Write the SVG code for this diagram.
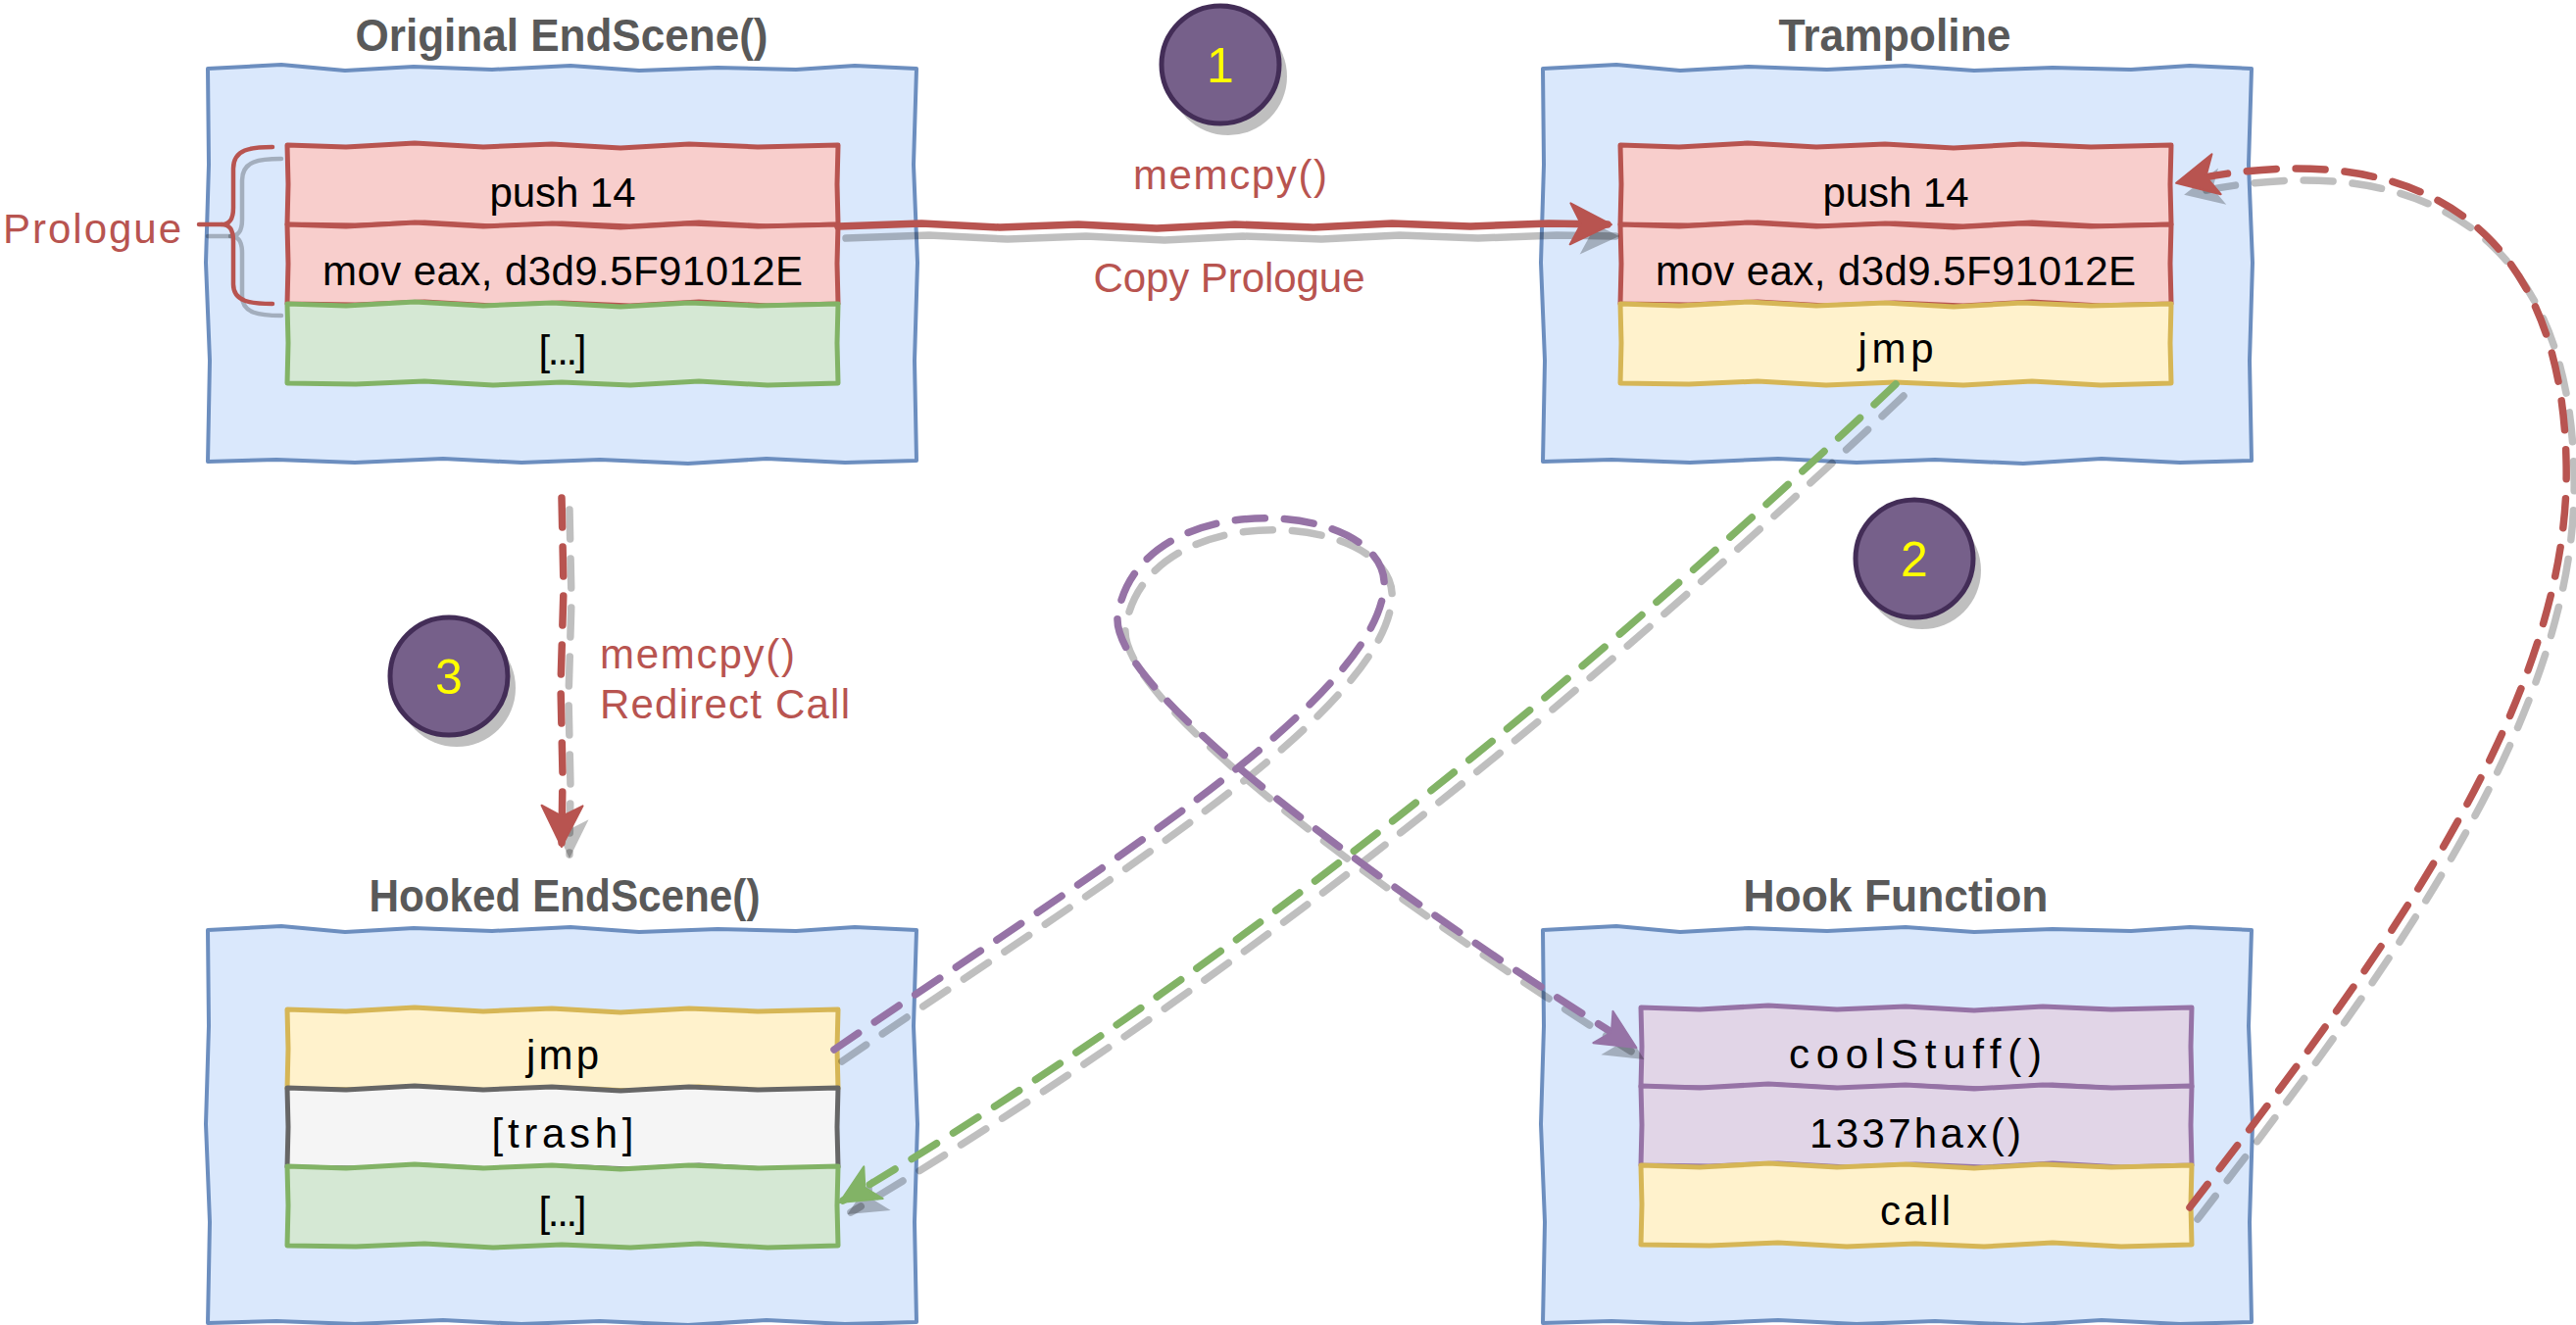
<svg xmlns="http://www.w3.org/2000/svg" width="2628" height="1352" viewBox="0 0 2628 1352">
<defs>
<style>
.box{fill:#dae8fc;stroke:#6c8ebf;stroke-width:4;stroke-linejoin:round}
.row{stroke-width:5;stroke-linejoin:round}
.red{fill:#f8cecc;stroke:#b85450}
.green{fill:#d5e8d4;stroke:#82b366}
.yellow{fill:#fff2cc;stroke:#d6b656}
.gray{fill:#f5f5f5;stroke:#666666}
.purple{fill:#e1d5e7;stroke:#9673a6}
.title{font-family:"Liberation Sans",Arial,sans-serif;font-weight:bold;font-size:46px;fill:#595959;text-anchor:middle}
.code{font-family:"Liberation Sans",Arial,sans-serif;font-size:42px;fill:#000;text-anchor:middle}
.lbl{font-family:"Liberation Sans",Arial,sans-serif;font-size:42px;fill:#b85450}
.mid{text-anchor:middle}
.num{font-family:"Liberation Sans",Arial,sans-serif;font-size:50px;fill:#ffff00;text-anchor:middle}
.step{fill:#76608a;stroke:#432d57;stroke-width:5}
.shf{fill:#000;fill-opacity:0.25}
.conn{fill:none;stroke-width:7.5;stroke-linecap:round;stroke-linejoin:round}
.dash{stroke-dasharray:30 20}
.sh{stroke:#000;stroke-opacity:0.25}
.cr{stroke:#b85450}
.cg{stroke:#82b366}
.cp{stroke:#9673a6}
.brace{fill:none;stroke-width:4.5;stroke-linecap:round;stroke-linejoin:round}
</style>
<path id="bigbox" d="M0 2 L75 -2 L140 4 L210 0 L290 3 L370 -1 L440 4 L520 1 L600 3 L660 -1 L723 2 L720 100 L724 200 L721 300 L723 402 L650 404 L570 400 L490 405 L400 401 L320 404 L240 400 L150 404 L70 401 L0 403 L2 300 L-2 200 L1 100 Z"/>
<path id="rowshape" d="M0 0 L60 2 L130 -2 L200 2 L270 -1 L340 3 L410 -1 L480 2 L562 0 L561 40 L562 81 L490 83 L420 79 L350 83 L280 80 L210 83 L140 79 L70 82 L0 81 L1 40 Z"/>
<marker id="aRed" markerUnits="userSpaceOnUse" viewBox="-44 -26 52 52" markerWidth="52" markerHeight="52" refX="0" refY="0" orient="auto" overflow="visible"><path d="M4 0 L-38 -21 L-27 0 L-38 21 Z" fill="#b85450" stroke="#b85450" stroke-width="2" stroke-linejoin="round"/></marker>
<marker id="aGreen" markerUnits="userSpaceOnUse" viewBox="-44 -26 52 52" markerWidth="52" markerHeight="52" refX="0" refY="0" orient="auto" overflow="visible"><path d="M4 0 L-36 -19 L-26 0 L-36 19 Z" fill="#82b366" stroke="#82b366" stroke-width="2" stroke-linejoin="round"/></marker>
<marker id="aPurple" markerUnits="userSpaceOnUse" viewBox="-44 -26 52 52" markerWidth="52" markerHeight="52" refX="0" refY="0" orient="auto" overflow="visible"><path d="M4 0 L-36 -19 L-26 0 L-36 19 Z" fill="#9673a6" stroke="#9673a6" stroke-width="2" stroke-linejoin="round"/></marker>
<marker id="aShadow" markerUnits="userSpaceOnUse" viewBox="-44 -26 52 52" markerWidth="52" markerHeight="52" refX="0" refY="0" orient="auto" overflow="visible"><path d="M4 0 L-36 -19 L-26 0 L-36 19 Z" fill="#000" fill-opacity="0.25"/></marker>
</defs>
<rect width="2628" height="1352" fill="#ffffff"/>

<g id="original">
<text class="title" x="573" y="52" textLength="421" lengthAdjust="spacingAndGlyphs">Original EndScene()</text>
<use href="#bigbox" x="212" y="68" class="box"/>
<use href="#rowshape" x="293" y="148" class="row red"/>
<use href="#rowshape" x="293" y="229" class="row red"/>
<use href="#rowshape" x="293" y="310" class="row green"/>
<text class="code" x="574" y="211" textLength="149">push 14</text>
<text class="code" x="574" y="291" textLength="490">mov eax, d3d9.5F91012E</text>
<text class="code" x="574" y="372" textLength="49">[...]</text>
</g>

<g id="trampoline">
<text class="title" x="1933" y="52" textLength="237" lengthAdjust="spacingAndGlyphs">Trampoline</text>
<use href="#bigbox" x="1574" y="68" class="box"/>
<use href="#rowshape" x="1653" y="148" class="row red"/>
<use href="#rowshape" x="1653" y="229" class="row red"/>
<use href="#rowshape" x="1653" y="310" class="row yellow"/>
<text class="code" x="1934" y="211" textLength="149">push 14</text>
<text class="code" x="1934" y="291" textLength="490">mov eax, d3d9.5F91012E</text>
<text class="code" x="1934" y="370" textLength="77">jmp</text>
</g>

<g id="hooked">
<text class="title" x="576" y="930" textLength="399" lengthAdjust="spacingAndGlyphs">Hooked EndScene()</text>
<use href="#bigbox" x="212" y="947" class="box"/>
<use href="#rowshape" x="293" y="1030" class="row yellow"/>
<use href="#rowshape" x="293" y="1110" class="row gray"/>
<use href="#rowshape" x="293" y="1190" class="row green"/>
<text class="code" x="574" y="1091" textLength="74">jmp</text>
<text class="code" x="574" y="1171" textLength="145">[trash]</text>
<text class="code" x="574" y="1251" textLength="49">[...]</text>
</g>

<g id="hook">
<text class="title" x="1934" y="930" textLength="311" lengthAdjust="spacingAndGlyphs">Hook Function</text>
<use href="#bigbox" x="1574" y="947" class="box"/>
<use href="#rowshape" x="1674" y="1028" class="row purple"/>
<use href="#rowshape" x="1674" y="1108" class="row purple"/>
<use href="#rowshape" x="1674" y="1189" class="row yellow"/>
<text class="code" x="1954" y="1090" textLength="258">coolStuff()</text>
<text class="code" x="1954" y="1171" textLength="216">1337hax()</text>
<text class="code" x="1954" y="1250" textLength="72">call</text>
</g>

<g id="prologue">
<g transform="translate(9,12)" class="brace sh">
<path d="M278 150 C256 150 238 152 238 172 L238 212 C238 224 234 229 226 229 C234 229 238 234 238 246 L238 290 C238 308 256 310 278 310"/>
<path d="M203 229 L226 229"/>
</g>
<g class="brace cr">
<path d="M278 150 C256 150 238 152 238 172 L238 212 C238 224 234 229 226 229 C234 229 238 234 238 246 L238 290 C238 308 256 310 278 310"/>
<path d="M203 229 L226 229"/>
</g>
<text class="lbl" x="3" y="248" font-size="44" textLength="182">Prologue</text>
</g>

<g id="step1">
<circle cx="1253" cy="78" r="60" class="shf"/>
<circle cx="1245" cy="66" r="60" class="step"/>
<text class="num" x="1245" y="84">1</text>
</g>
<g id="step2">
<circle cx="1961" cy="582" r="60" class="shf"/>
<circle cx="1953" cy="570" r="60" class="step"/>
<text class="num" x="1953" y="588">2</text>
</g>
<g id="step3">
<circle cx="466" cy="702" r="60" class="shf"/>
<circle cx="458" cy="690" r="60" class="step"/>
<text class="num" x="458" y="708">3</text>
</g>

<g id="labels">
<text class="lbl mid" x="1255" y="193" textLength="198">memcpy()</text>
<text class="lbl mid" x="1254" y="298" textLength="277">Copy Prologue</text>
<text class="lbl" x="612" y="682" textLength="199">memcpy()</text>
<text class="lbl" x="612" y="733" textLength="255">Redirect Call</text>
</g>

<g id="connectors">
<g transform="translate(8,12)">
<path class="conn sh" marker-end="url(#aShadow)" d="M855 231 L940 228 L1020 232 L1100 229 L1180 233 L1260 229 L1340 232 L1420 228 L1500 231 L1580 228 L1640 229"/>
<path class="conn sh dash" marker-end="url(#aShadow)" d="M573 508 L575 600 L572 700 L574 790 L573 860"/>
<path class="conn sh dash" marker-end="url(#aShadow)" d="M1934 392 Q1383 915 860 1225"/>
<path class="conn sh dash" marker-end="url(#aShadow)" d="M851 1071 C1100 900 1400 720 1412 600 C1420 510 1160 490 1140 630 C1135 720 1505 967 1666 1067"/>
<path class="conn sh dash" marker-end="url(#aShadow)" d="M2234 1232 C2420 990 2625 720 2618 470 C2612 200 2430 140 2224 186"/>
</g>
<path class="conn cr" marker-end="url(#aRed)" d="M855 231 L940 228 L1020 232 L1100 229 L1180 233 L1260 229 L1340 232 L1420 228 L1500 231 L1580 228 L1640 229"/>
<path class="conn cr dash" marker-end="url(#aRed)" d="M573 508 L575 600 L572 700 L574 790 L573 860"/>
<path class="conn cg dash" marker-end="url(#aGreen)" d="M1934 392 Q1383 915 860 1225"/>
<path class="conn cp dash" marker-end="url(#aPurple)" d="M851 1071 C1100 900 1400 720 1412 600 C1420 510 1160 490 1140 630 C1135 720 1505 967 1666 1067"/>
<path class="conn cr dash" marker-end="url(#aRed)" d="M2234 1232 C2420 990 2625 720 2618 470 C2612 200 2430 140 2224 186"/>
</g>
</svg>
